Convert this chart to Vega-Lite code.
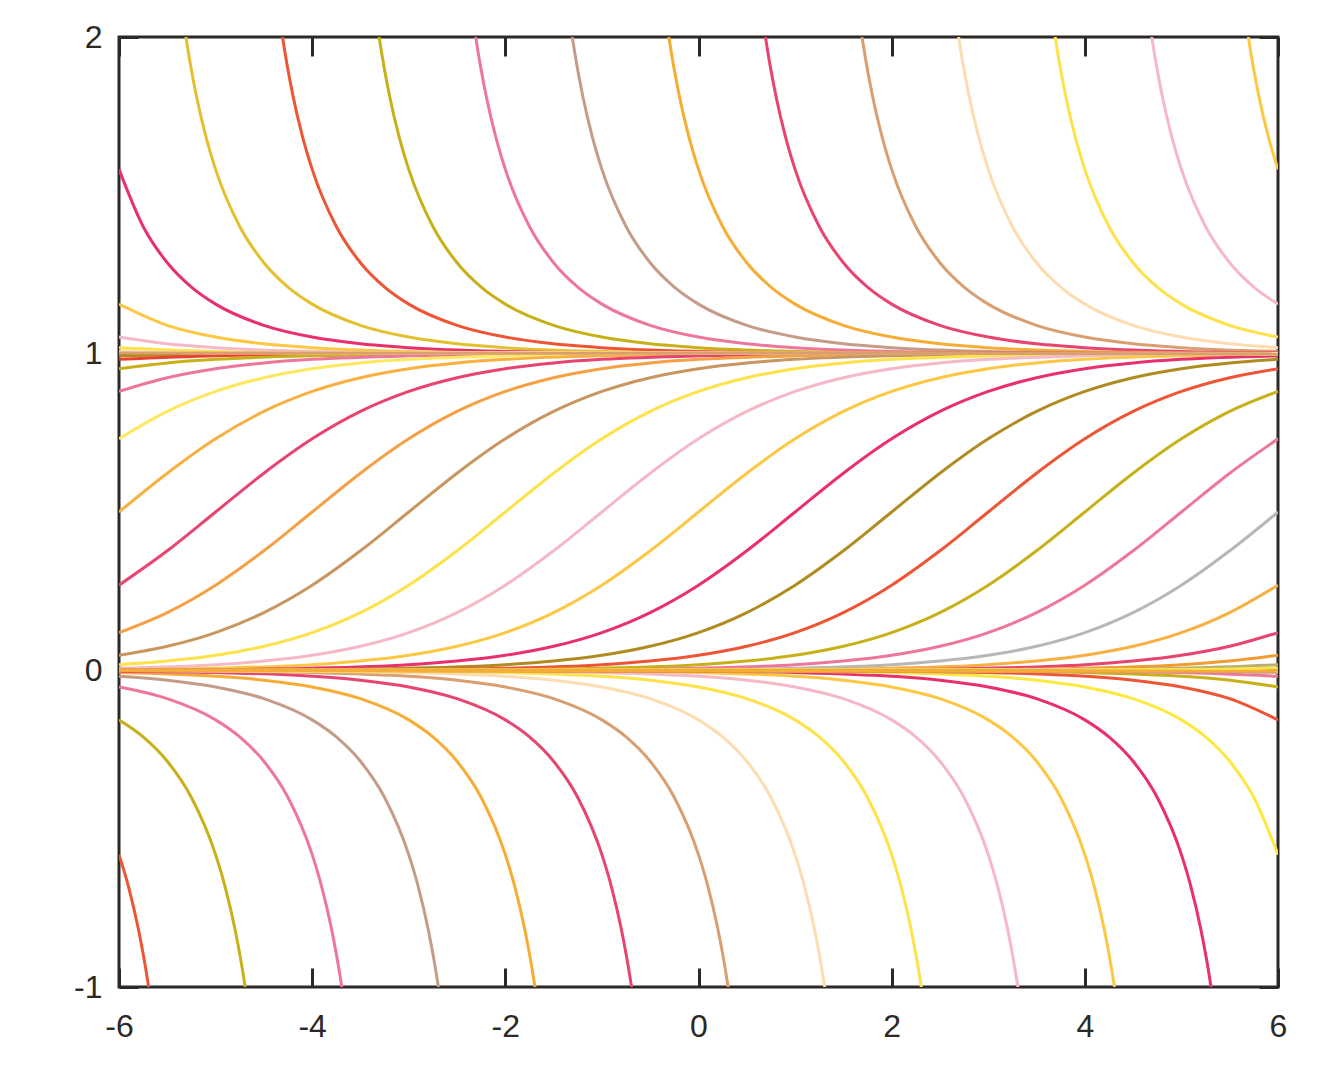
{
"$schema": "https://vega.github.io/schema/vega-lite/v6.json",
"width": 1159, "height": 950,
"autosize": "none",
"padding": {"left": 119, "top": 37, "right": 56, "bottom": 80},
"background": "white",
"config": {
 "view": {"stroke": "#2b2826", "strokeWidth": 3},
 "axis": {"domain": false, "grid": false, "tickColor": "#2b2826", "tickWidth": 3, "tickSize": -19, "labelFont": "Liberation Sans", "labelFontSize": 32, "labelColor": "#2b2826", "labelFlush": false, "labelOverlap": false, "title": null, "labelExpr": "toString(datum.value)"}
},
"data": {"values": [
{"id":"s-11","t":-6,"y":0.9933},{"id":"s-11","t":-5,"y":0.9975},{"id":"s-11","t":6,"y":1},
{"id":"s-10","t":-6,"y":0.982},{"id":"s-10","t":-5,"y":0.9933},{"id":"s-10","t":-4,"y":0.9975},{"id":"s-10","t":6,"y":1},
{"id":"s-9","t":-6,"y":0.9526},{"id":"s-9","t":-5.5,"y":0.9707},{"id":"s-9","t":-5,"y":0.982},{"id":"s-9","t":-4,"y":0.9933},{"id":"s-9","t":-3,"y":0.9975},{"id":"s-9","t":6,"y":1},
{"id":"s-8","t":-6,"y":0.8808},{"id":"s-8","t":-5.5,"y":0.9241},{"id":"s-8","t":-5,"y":0.9526},{"id":"s-8","t":-4.5,"y":0.9707},{"id":"s-8","t":-4,"y":0.982},{"id":"s-8","t":-3,"y":0.9933},{"id":"s-8","t":-2,"y":0.9975},{"id":"s-8","t":6,"y":1},
{"id":"s-7","t":-6,"y":0.7311},{"id":"s-7","t":-5.5,"y":0.8176},{"id":"s-7","t":-5,"y":0.8808},{"id":"s-7","t":-4.5,"y":0.9241},{"id":"s-7","t":-4,"y":0.9526},{"id":"s-7","t":-3.5,"y":0.9707},{"id":"s-7","t":-3,"y":0.982},{"id":"s-7","t":-2,"y":0.9933},{"id":"s-7","t":-1,"y":0.9975},{"id":"s-7","t":6,"y":1},
{"id":"s-6","t":-6,"y":0.5},{"id":"s-6","t":-5.5,"y":0.6225},{"id":"s-6","t":-5,"y":0.7311},{"id":"s-6","t":-4.5,"y":0.8176},{"id":"s-6","t":-4,"y":0.8808},{"id":"s-6","t":-3.5,"y":0.9241},{"id":"s-6","t":-3,"y":0.9526},{"id":"s-6","t":-2.5,"y":0.9707},{"id":"s-6","t":-2,"y":0.982},{"id":"s-6","t":-1,"y":0.9933},{"id":"s-6","t":0,"y":0.9975},{"id":"s-6","t":6,"y":1},
{"id":"s-5","t":-6,"y":0.2689},{"id":"s-5","t":-5.5,"y":0.3775},{"id":"s-5","t":-5,"y":0.5},{"id":"s-5","t":-4.5,"y":0.6225},{"id":"s-5","t":-4,"y":0.7311},{"id":"s-5","t":-3.5,"y":0.8176},{"id":"s-5","t":-3,"y":0.8808},{"id":"s-5","t":-2.5,"y":0.9241},{"id":"s-5","t":-2,"y":0.9526},{"id":"s-5","t":-1.5,"y":0.9707},{"id":"s-5","t":-1,"y":0.982},{"id":"s-5","t":0,"y":0.9933},{"id":"s-5","t":1,"y":0.9975},{"id":"s-5","t":6,"y":1},
{"id":"s-4","t":-6,"y":0.1192},{"id":"s-4","t":-5.5,"y":0.1824},{"id":"s-4","t":-5,"y":0.2689},{"id":"s-4","t":-4.5,"y":0.3775},{"id":"s-4","t":-4,"y":0.5},{"id":"s-4","t":-3.5,"y":0.6225},{"id":"s-4","t":-3,"y":0.7311},{"id":"s-4","t":-2.5,"y":0.8176},{"id":"s-4","t":-2,"y":0.8808},{"id":"s-4","t":-1.5,"y":0.9241},{"id":"s-4","t":-1,"y":0.9526},{"id":"s-4","t":-0.5,"y":0.9707},{"id":"s-4","t":0,"y":0.982},{"id":"s-4","t":1,"y":0.9933},{"id":"s-4","t":2,"y":0.9975},{"id":"s-4","t":6,"y":1},
{"id":"s-3","t":-6,"y":0.0474},{"id":"s-3","t":-5.5,"y":0.0759},{"id":"s-3","t":-5,"y":0.1192},{"id":"s-3","t":-4.5,"y":0.1824},{"id":"s-3","t":-4,"y":0.2689},{"id":"s-3","t":-3.5,"y":0.3775},{"id":"s-3","t":-3,"y":0.5},{"id":"s-3","t":-2.5,"y":0.6225},{"id":"s-3","t":-2,"y":0.7311},{"id":"s-3","t":-1.5,"y":0.8176},{"id":"s-3","t":-1,"y":0.8808},{"id":"s-3","t":-0.5,"y":0.9241},{"id":"s-3","t":0,"y":0.9526},{"id":"s-3","t":0.5,"y":0.9707},{"id":"s-3","t":1,"y":0.982},{"id":"s-3","t":2,"y":0.9933},{"id":"s-3","t":3,"y":0.9975},{"id":"s-3","t":6,"y":0.9999},
{"id":"s-2","t":-6,"y":0.018},{"id":"s-2","t":-5.5,"y":0.0293},{"id":"s-2","t":-5,"y":0.0474},{"id":"s-2","t":-4.5,"y":0.0759},{"id":"s-2","t":-4,"y":0.1192},{"id":"s-2","t":-3.5,"y":0.1824},{"id":"s-2","t":-3,"y":0.2689},{"id":"s-2","t":-2.5,"y":0.3775},{"id":"s-2","t":-2,"y":0.5},{"id":"s-2","t":-1.5,"y":0.6225},{"id":"s-2","t":-1,"y":0.7311},{"id":"s-2","t":-0.5,"y":0.8176},{"id":"s-2","t":0,"y":0.8808},{"id":"s-2","t":0.5,"y":0.9241},{"id":"s-2","t":1,"y":0.9526},{"id":"s-2","t":1.5,"y":0.9707},{"id":"s-2","t":2,"y":0.982},{"id":"s-2","t":3,"y":0.9933},{"id":"s-2","t":4,"y":0.9975},{"id":"s-2","t":6,"y":0.9997},
{"id":"s-1","t":-6,"y":0.0067},{"id":"s-1","t":-5,"y":0.018},{"id":"s-1","t":-4.5,"y":0.0293},{"id":"s-1","t":-4,"y":0.0474},{"id":"s-1","t":-3.5,"y":0.0759},{"id":"s-1","t":-3,"y":0.1192},{"id":"s-1","t":-2.5,"y":0.1824},{"id":"s-1","t":-2,"y":0.2689},{"id":"s-1","t":-1.5,"y":0.3775},{"id":"s-1","t":-1,"y":0.5},{"id":"s-1","t":-0.5,"y":0.6225},{"id":"s-1","t":0,"y":0.7311},{"id":"s-1","t":0.5,"y":0.8176},{"id":"s-1","t":1,"y":0.8808},{"id":"s-1","t":1.5,"y":0.9241},{"id":"s-1","t":2,"y":0.9526},{"id":"s-1","t":2.5,"y":0.9707},{"id":"s-1","t":3,"y":0.982},{"id":"s-1","t":4,"y":0.9933},{"id":"s-1","t":5,"y":0.9975},{"id":"s-1","t":6,"y":0.9991},
{"id":"s0","t":-6,"y":0.0025},{"id":"s0","t":-5,"y":0.0067},{"id":"s0","t":-4,"y":0.018},{"id":"s0","t":-3.5,"y":0.0293},{"id":"s0","t":-3,"y":0.0474},{"id":"s0","t":-2.5,"y":0.0759},{"id":"s0","t":-2,"y":0.1192},{"id":"s0","t":-1.5,"y":0.1824},{"id":"s0","t":-1,"y":0.2689},{"id":"s0","t":-0.5,"y":0.3775},{"id":"s0","t":0,"y":0.5},{"id":"s0","t":0.5,"y":0.6225},{"id":"s0","t":1,"y":0.7311},{"id":"s0","t":1.5,"y":0.8176},{"id":"s0","t":2,"y":0.8808},{"id":"s0","t":2.5,"y":0.9241},{"id":"s0","t":3,"y":0.9526},{"id":"s0","t":3.5,"y":0.9707},{"id":"s0","t":4,"y":0.982},{"id":"s0","t":5,"y":0.9933},{"id":"s0","t":6,"y":0.9975},
{"id":"s1","t":-6,"y":0.0009},{"id":"s1","t":-5,"y":0.0025},{"id":"s1","t":-4,"y":0.0067},{"id":"s1","t":-3,"y":0.018},{"id":"s1","t":-2.5,"y":0.0293},{"id":"s1","t":-2,"y":0.0474},{"id":"s1","t":-1.5,"y":0.0759},{"id":"s1","t":-1,"y":0.1192},{"id":"s1","t":-0.5,"y":0.1824},{"id":"s1","t":0,"y":0.2689},{"id":"s1","t":0.5,"y":0.3775},{"id":"s1","t":1,"y":0.5},{"id":"s1","t":1.5,"y":0.6225},{"id":"s1","t":2,"y":0.7311},{"id":"s1","t":2.5,"y":0.8176},{"id":"s1","t":3,"y":0.8808},{"id":"s1","t":3.5,"y":0.9241},{"id":"s1","t":4,"y":0.9526},{"id":"s1","t":4.5,"y":0.9707},{"id":"s1","t":5,"y":0.982},{"id":"s1","t":6,"y":0.9933},
{"id":"s2","t":-6,"y":0.0003},{"id":"s2","t":-4,"y":0.0025},{"id":"s2","t":-3,"y":0.0067},{"id":"s2","t":-2,"y":0.018},{"id":"s2","t":-1.5,"y":0.0293},{"id":"s2","t":-1,"y":0.0474},{"id":"s2","t":-0.5,"y":0.0759},{"id":"s2","t":0,"y":0.1192},{"id":"s2","t":0.5,"y":0.1824},{"id":"s2","t":1,"y":0.2689},{"id":"s2","t":1.5,"y":0.3775},{"id":"s2","t":2,"y":0.5},{"id":"s2","t":2.5,"y":0.6225},{"id":"s2","t":3,"y":0.7311},{"id":"s2","t":3.5,"y":0.8176},{"id":"s2","t":4,"y":0.8808},{"id":"s2","t":4.5,"y":0.9241},{"id":"s2","t":5,"y":0.9526},{"id":"s2","t":5.5,"y":0.9707},{"id":"s2","t":6,"y":0.982},
{"id":"s3","t":-6,"y":0.0001},{"id":"s3","t":-3,"y":0.0025},{"id":"s3","t":-2,"y":0.0067},{"id":"s3","t":-1,"y":0.018},{"id":"s3","t":-0.5,"y":0.0293},{"id":"s3","t":0,"y":0.0474},{"id":"s3","t":0.5,"y":0.0759},{"id":"s3","t":1,"y":0.1192},{"id":"s3","t":1.5,"y":0.1824},{"id":"s3","t":2,"y":0.2689},{"id":"s3","t":2.5,"y":0.3775},{"id":"s3","t":3,"y":0.5},{"id":"s3","t":3.5,"y":0.6225},{"id":"s3","t":4,"y":0.7311},{"id":"s3","t":4.5,"y":0.8176},{"id":"s3","t":5,"y":0.8808},{"id":"s3","t":5.5,"y":0.9241},{"id":"s3","t":6,"y":0.9526},
{"id":"s4","t":-6,"y":0},{"id":"s4","t":-2,"y":0.0025},{"id":"s4","t":-1,"y":0.0067},{"id":"s4","t":0,"y":0.018},{"id":"s4","t":0.5,"y":0.0293},{"id":"s4","t":1,"y":0.0474},{"id":"s4","t":1.5,"y":0.0759},{"id":"s4","t":2,"y":0.1192},{"id":"s4","t":2.5,"y":0.1824},{"id":"s4","t":3,"y":0.2689},{"id":"s4","t":3.5,"y":0.3775},{"id":"s4","t":4,"y":0.5},{"id":"s4","t":4.5,"y":0.6225},{"id":"s4","t":5,"y":0.7311},{"id":"s4","t":5.5,"y":0.8176},{"id":"s4","t":6,"y":0.8808},
{"id":"s5","t":-6,"y":0},{"id":"s5","t":-1,"y":0.0025},{"id":"s5","t":0,"y":0.0067},{"id":"s5","t":1,"y":0.018},{"id":"s5","t":1.5,"y":0.0293},{"id":"s5","t":2,"y":0.0474},{"id":"s5","t":2.5,"y":0.0759},{"id":"s5","t":3,"y":0.1192},{"id":"s5","t":3.5,"y":0.1824},{"id":"s5","t":4,"y":0.2689},{"id":"s5","t":4.5,"y":0.3775},{"id":"s5","t":5,"y":0.5},{"id":"s5","t":5.5,"y":0.6225},{"id":"s5","t":6,"y":0.7311},
{"id":"s6","t":-6,"y":0},{"id":"s6","t":0,"y":0.0025},{"id":"s6","t":1,"y":0.0067},{"id":"s6","t":2,"y":0.018},{"id":"s6","t":2.5,"y":0.0293},{"id":"s6","t":3,"y":0.0474},{"id":"s6","t":3.5,"y":0.0759},{"id":"s6","t":4,"y":0.1192},{"id":"s6","t":4.5,"y":0.1824},{"id":"s6","t":5,"y":0.2689},{"id":"s6","t":5.5,"y":0.3775},{"id":"s6","t":6,"y":0.5},
{"id":"s7","t":-6,"y":0},{"id":"s7","t":1,"y":0.0025},{"id":"s7","t":2,"y":0.0067},{"id":"s7","t":3,"y":0.018},{"id":"s7","t":3.5,"y":0.0293},{"id":"s7","t":4,"y":0.0474},{"id":"s7","t":4.5,"y":0.0759},{"id":"s7","t":5,"y":0.1192},{"id":"s7","t":5.5,"y":0.1824},{"id":"s7","t":6,"y":0.2689},
{"id":"s8","t":-6,"y":0},{"id":"s8","t":2,"y":0.0025},{"id":"s8","t":3,"y":0.0067},{"id":"s8","t":4,"y":0.018},{"id":"s8","t":4.5,"y":0.0293},{"id":"s8","t":5,"y":0.0474},{"id":"s8","t":5.5,"y":0.0759},{"id":"s8","t":6,"y":0.1192},
{"id":"s9","t":-6,"y":0},{"id":"s9","t":3,"y":0.0025},{"id":"s9","t":4,"y":0.0067},{"id":"s9","t":5,"y":0.018},{"id":"s9","t":5.5,"y":0.0293},{"id":"s9","t":6,"y":0.0474},
{"id":"s10","t":-6,"y":0},{"id":"s10","t":4,"y":0.0025},{"id":"s10","t":5,"y":0.0067},{"id":"s10","t":6,"y":0.018},
{"id":"s11","t":-6,"y":0},{"id":"s11","t":5,"y":0.0025},{"id":"s11","t":6,"y":0.0067},
{"id":"u5","t":5.5,"y":2.5415},{"id":"u5","t":5.6,"y":2.2164},{"id":"u5","t":5.7,"y":1.9864},{"id":"u5","t":5.8,"y":1.816},{"id":"u5","t":5.9,"y":1.6851},{"id":"u5","t":6,"y":1.582},
{"id":"u4","t":4.5,"y":2.5415},{"id":"u4","t":4.6,"y":2.2164},{"id":"u4","t":4.7,"y":1.9864},{"id":"u4","t":4.8,"y":1.816},{"id":"u4","t":4.9,"y":1.6851},{"id":"u4","t":5,"y":1.582},{"id":"u4","t":5.25,"y":1.4016},{"id":"u4","t":5.5,"y":1.2872},{"id":"u4","t":5.75,"y":1.2103},{"id":"u4","t":6,"y":1.1565},
{"id":"u3","t":3.5,"y":2.5415},{"id":"u3","t":3.6,"y":2.2164},{"id":"u3","t":3.7,"y":1.9864},{"id":"u3","t":3.8,"y":1.816},{"id":"u3","t":3.9,"y":1.6851},{"id":"u3","t":4,"y":1.582},{"id":"u3","t":4.25,"y":1.4016},{"id":"u3","t":4.5,"y":1.2872},{"id":"u3","t":4.75,"y":1.2103},{"id":"u3","t":5,"y":1.1565},{"id":"u3","t":5.5,"y":1.0894},{"id":"u3","t":6,"y":1.0524},
{"id":"u2","t":2.5,"y":2.5415},{"id":"u2","t":2.6,"y":2.2164},{"id":"u2","t":2.7,"y":1.9864},{"id":"u2","t":2.8,"y":1.816},{"id":"u2","t":2.9,"y":1.6851},{"id":"u2","t":3,"y":1.582},{"id":"u2","t":3.25,"y":1.4016},{"id":"u2","t":3.5,"y":1.2872},{"id":"u2","t":3.75,"y":1.2103},{"id":"u2","t":4,"y":1.1565},{"id":"u2","t":4.5,"y":1.0894},{"id":"u2","t":5,"y":1.0524},{"id":"u2","t":5.5,"y":1.0311},{"id":"u2","t":6,"y":1.0187},
{"id":"u1","t":1.5,"y":2.5415},{"id":"u1","t":1.6,"y":2.2164},{"id":"u1","t":1.7,"y":1.9864},{"id":"u1","t":1.8,"y":1.816},{"id":"u1","t":1.9,"y":1.6851},{"id":"u1","t":2,"y":1.582},{"id":"u1","t":2.25,"y":1.4016},{"id":"u1","t":2.5,"y":1.2872},{"id":"u1","t":2.75,"y":1.2103},{"id":"u1","t":3,"y":1.1565},{"id":"u1","t":3.5,"y":1.0894},{"id":"u1","t":4,"y":1.0524},{"id":"u1","t":4.5,"y":1.0311},{"id":"u1","t":5,"y":1.0187},{"id":"u1","t":6,"y":1.0068},
{"id":"u0","t":0.5,"y":2.5415},{"id":"u0","t":0.6,"y":2.2164},{"id":"u0","t":0.7,"y":1.9864},{"id":"u0","t":0.8,"y":1.816},{"id":"u0","t":0.9,"y":1.6851},{"id":"u0","t":1,"y":1.582},{"id":"u0","t":1.25,"y":1.4016},{"id":"u0","t":1.5,"y":1.2872},{"id":"u0","t":1.75,"y":1.2103},{"id":"u0","t":2,"y":1.1565},{"id":"u0","t":2.5,"y":1.0894},{"id":"u0","t":3,"y":1.0524},{"id":"u0","t":3.5,"y":1.0311},{"id":"u0","t":4,"y":1.0187},{"id":"u0","t":5,"y":1.0068},{"id":"u0","t":6,"y":1.0025},
{"id":"u-1","t":-0.5,"y":2.5415},{"id":"u-1","t":-0.4,"y":2.2164},{"id":"u-1","t":-0.3,"y":1.9864},{"id":"u-1","t":-0.2,"y":1.816},{"id":"u-1","t":-0.1,"y":1.6851},{"id":"u-1","t":0,"y":1.582},{"id":"u-1","t":0.25,"y":1.4016},{"id":"u-1","t":0.5,"y":1.2872},{"id":"u-1","t":0.75,"y":1.2103},{"id":"u-1","t":1,"y":1.1565},{"id":"u-1","t":1.5,"y":1.0894},{"id":"u-1","t":2,"y":1.0524},{"id":"u-1","t":2.5,"y":1.0311},{"id":"u-1","t":3,"y":1.0187},{"id":"u-1","t":4,"y":1.0068},{"id":"u-1","t":5,"y":1.0025},{"id":"u-1","t":6,"y":1.0009},
{"id":"u-2","t":-1.5,"y":2.5415},{"id":"u-2","t":-1.4,"y":2.2164},{"id":"u-2","t":-1.3,"y":1.9864},{"id":"u-2","t":-1.2,"y":1.816},{"id":"u-2","t":-1.1,"y":1.6851},{"id":"u-2","t":-1,"y":1.582},{"id":"u-2","t":-0.75,"y":1.4016},{"id":"u-2","t":-0.5,"y":1.2872},{"id":"u-2","t":-0.25,"y":1.2103},{"id":"u-2","t":0,"y":1.1565},{"id":"u-2","t":0.5,"y":1.0894},{"id":"u-2","t":1,"y":1.0524},{"id":"u-2","t":1.5,"y":1.0311},{"id":"u-2","t":2,"y":1.0187},{"id":"u-2","t":3,"y":1.0068},{"id":"u-2","t":4,"y":1.0025},{"id":"u-2","t":6,"y":1.0003},
{"id":"u-3","t":-2.5,"y":2.5415},{"id":"u-3","t":-2.4,"y":2.2164},{"id":"u-3","t":-2.3,"y":1.9864},{"id":"u-3","t":-2.2,"y":1.816},{"id":"u-3","t":-2.1,"y":1.6851},{"id":"u-3","t":-2,"y":1.582},{"id":"u-3","t":-1.75,"y":1.4016},{"id":"u-3","t":-1.5,"y":1.2872},{"id":"u-3","t":-1.25,"y":1.2103},{"id":"u-3","t":-1,"y":1.1565},{"id":"u-3","t":-0.5,"y":1.0894},{"id":"u-3","t":0,"y":1.0524},{"id":"u-3","t":0.5,"y":1.0311},{"id":"u-3","t":1,"y":1.0187},{"id":"u-3","t":2,"y":1.0068},{"id":"u-3","t":3,"y":1.0025},{"id":"u-3","t":6,"y":1.0001},
{"id":"u-4","t":-3.5,"y":2.5415},{"id":"u-4","t":-3.4,"y":2.2164},{"id":"u-4","t":-3.3,"y":1.9864},{"id":"u-4","t":-3.2,"y":1.816},{"id":"u-4","t":-3.1,"y":1.6851},{"id":"u-4","t":-3,"y":1.582},{"id":"u-4","t":-2.75,"y":1.4016},{"id":"u-4","t":-2.5,"y":1.2872},{"id":"u-4","t":-2.25,"y":1.2103},{"id":"u-4","t":-2,"y":1.1565},{"id":"u-4","t":-1.5,"y":1.0894},{"id":"u-4","t":-1,"y":1.0524},{"id":"u-4","t":-0.5,"y":1.0311},{"id":"u-4","t":0,"y":1.0187},{"id":"u-4","t":1,"y":1.0068},{"id":"u-4","t":2,"y":1.0025},{"id":"u-4","t":6,"y":1},
{"id":"u-5","t":-4.5,"y":2.5415},{"id":"u-5","t":-4.4,"y":2.2164},{"id":"u-5","t":-4.3,"y":1.9864},{"id":"u-5","t":-4.2,"y":1.816},{"id":"u-5","t":-4.1,"y":1.6851},{"id":"u-5","t":-4,"y":1.582},{"id":"u-5","t":-3.75,"y":1.4016},{"id":"u-5","t":-3.5,"y":1.2872},{"id":"u-5","t":-3.25,"y":1.2103},{"id":"u-5","t":-3,"y":1.1565},{"id":"u-5","t":-2.5,"y":1.0894},{"id":"u-5","t":-2,"y":1.0524},{"id":"u-5","t":-1.5,"y":1.0311},{"id":"u-5","t":-1,"y":1.0187},{"id":"u-5","t":0,"y":1.0068},{"id":"u-5","t":1,"y":1.0025},{"id":"u-5","t":6,"y":1},
{"id":"u-6","t":-5.5,"y":2.5415},{"id":"u-6","t":-5.4,"y":2.2164},{"id":"u-6","t":-5.3,"y":1.9864},{"id":"u-6","t":-5.2,"y":1.816},{"id":"u-6","t":-5.1,"y":1.6851},{"id":"u-6","t":-5,"y":1.582},{"id":"u-6","t":-4.75,"y":1.4016},{"id":"u-6","t":-4.5,"y":1.2872},{"id":"u-6","t":-4.25,"y":1.2103},{"id":"u-6","t":-4,"y":1.1565},{"id":"u-6","t":-3.5,"y":1.0894},{"id":"u-6","t":-3,"y":1.0524},{"id":"u-6","t":-2.5,"y":1.0311},{"id":"u-6","t":-2,"y":1.0187},{"id":"u-6","t":-1,"y":1.0068},{"id":"u-6","t":0,"y":1.0025},{"id":"u-6","t":6,"y":1},
{"id":"u-7","t":-6,"y":1.582},{"id":"u-7","t":-5.75,"y":1.4016},{"id":"u-7","t":-5.5,"y":1.2872},{"id":"u-7","t":-5.25,"y":1.2103},{"id":"u-7","t":-5,"y":1.1565},{"id":"u-7","t":-4.5,"y":1.0894},{"id":"u-7","t":-4,"y":1.0524},{"id":"u-7","t":-3.5,"y":1.0311},{"id":"u-7","t":-3,"y":1.0187},{"id":"u-7","t":-2,"y":1.0068},{"id":"u-7","t":-1,"y":1.0025},{"id":"u-7","t":6,"y":1},
{"id":"u-8","t":-6,"y":1.1565},{"id":"u-8","t":-5.5,"y":1.0894},{"id":"u-8","t":-5,"y":1.0524},{"id":"u-8","t":-4.5,"y":1.0311},{"id":"u-8","t":-4,"y":1.0187},{"id":"u-8","t":-3,"y":1.0068},{"id":"u-8","t":-2,"y":1.0025},{"id":"u-8","t":6,"y":1},
{"id":"u-9","t":-6,"y":1.0524},{"id":"u-9","t":-5.5,"y":1.0311},{"id":"u-9","t":-5,"y":1.0187},{"id":"u-9","t":-4,"y":1.0068},{"id":"u-9","t":-3,"y":1.0025},{"id":"u-9","t":6,"y":1},
{"id":"u-10","t":-6,"y":1.0187},{"id":"u-10","t":-5,"y":1.0068},{"id":"u-10","t":-4,"y":1.0025},{"id":"u-10","t":6,"y":1},
{"id":"u-11","t":-6,"y":1.0068},{"id":"u-11","t":-5,"y":1.0025},{"id":"u-11","t":6,"y":1},
{"id":"u-12","t":-6,"y":1.0025},{"id":"u-12","t":6,"y":1},
{"id":"l-5","t":-6,"y":-0.582},{"id":"l-5","t":-5.9,"y":-0.6851},{"id":"l-5","t":-5.8,"y":-0.816},{"id":"l-5","t":-5.7,"y":-0.9864},{"id":"l-5","t":-5.6,"y":-1.2164},{"id":"l-5","t":-5.5,"y":-1.5415},
{"id":"l-4","t":-6,"y":-0.1565},{"id":"l-4","t":-5.75,"y":-0.2103},{"id":"l-4","t":-5.5,"y":-0.2872},{"id":"l-4","t":-5.25,"y":-0.4016},{"id":"l-4","t":-5,"y":-0.582},{"id":"l-4","t":-4.9,"y":-0.6851},{"id":"l-4","t":-4.8,"y":-0.816},{"id":"l-4","t":-4.7,"y":-0.9864},{"id":"l-4","t":-4.6,"y":-1.2164},{"id":"l-4","t":-4.5,"y":-1.5415},
{"id":"l-3","t":-6,"y":-0.0524},{"id":"l-3","t":-5.5,"y":-0.0894},{"id":"l-3","t":-5,"y":-0.1565},{"id":"l-3","t":-4.75,"y":-0.2103},{"id":"l-3","t":-4.5,"y":-0.2872},{"id":"l-3","t":-4.25,"y":-0.4016},{"id":"l-3","t":-4,"y":-0.582},{"id":"l-3","t":-3.9,"y":-0.6851},{"id":"l-3","t":-3.8,"y":-0.816},{"id":"l-3","t":-3.7,"y":-0.9864},{"id":"l-3","t":-3.6,"y":-1.2164},{"id":"l-3","t":-3.5,"y":-1.5415},
{"id":"l-2","t":-6,"y":-0.0187},{"id":"l-2","t":-5.5,"y":-0.0311},{"id":"l-2","t":-5,"y":-0.0524},{"id":"l-2","t":-4.5,"y":-0.0894},{"id":"l-2","t":-4,"y":-0.1565},{"id":"l-2","t":-3.75,"y":-0.2103},{"id":"l-2","t":-3.5,"y":-0.2872},{"id":"l-2","t":-3.25,"y":-0.4016},{"id":"l-2","t":-3,"y":-0.582},{"id":"l-2","t":-2.9,"y":-0.6851},{"id":"l-2","t":-2.8,"y":-0.816},{"id":"l-2","t":-2.7,"y":-0.9864},{"id":"l-2","t":-2.6,"y":-1.2164},{"id":"l-2","t":-2.5,"y":-1.5415},
{"id":"l-1","t":-6,"y":-0.0068},{"id":"l-1","t":-5,"y":-0.0187},{"id":"l-1","t":-4.5,"y":-0.0311},{"id":"l-1","t":-4,"y":-0.0524},{"id":"l-1","t":-3.5,"y":-0.0894},{"id":"l-1","t":-3,"y":-0.1565},{"id":"l-1","t":-2.75,"y":-0.2103},{"id":"l-1","t":-2.5,"y":-0.2872},{"id":"l-1","t":-2.25,"y":-0.4016},{"id":"l-1","t":-2,"y":-0.582},{"id":"l-1","t":-1.9,"y":-0.6851},{"id":"l-1","t":-1.8,"y":-0.816},{"id":"l-1","t":-1.7,"y":-0.9864},{"id":"l-1","t":-1.6,"y":-1.2164},{"id":"l-1","t":-1.5,"y":-1.5415},
{"id":"l0","t":-6,"y":-0.0025},{"id":"l0","t":-5,"y":-0.0068},{"id":"l0","t":-4,"y":-0.0187},{"id":"l0","t":-3.5,"y":-0.0311},{"id":"l0","t":-3,"y":-0.0524},{"id":"l0","t":-2.5,"y":-0.0894},{"id":"l0","t":-2,"y":-0.1565},{"id":"l0","t":-1.75,"y":-0.2103},{"id":"l0","t":-1.5,"y":-0.2872},{"id":"l0","t":-1.25,"y":-0.4016},{"id":"l0","t":-1,"y":-0.582},{"id":"l0","t":-0.9,"y":-0.6851},{"id":"l0","t":-0.8,"y":-0.816},{"id":"l0","t":-0.7,"y":-0.9864},{"id":"l0","t":-0.6,"y":-1.2164},{"id":"l0","t":-0.5,"y":-1.5415},
{"id":"l1","t":-6,"y":-0.0009},{"id":"l1","t":-5,"y":-0.0025},{"id":"l1","t":-4,"y":-0.0068},{"id":"l1","t":-3,"y":-0.0187},{"id":"l1","t":-2.5,"y":-0.0311},{"id":"l1","t":-2,"y":-0.0524},{"id":"l1","t":-1.5,"y":-0.0894},{"id":"l1","t":-1,"y":-0.1565},{"id":"l1","t":-0.75,"y":-0.2103},{"id":"l1","t":-0.5,"y":-0.2872},{"id":"l1","t":-0.25,"y":-0.4016},{"id":"l1","t":0,"y":-0.582},{"id":"l1","t":0.1,"y":-0.6851},{"id":"l1","t":0.2,"y":-0.816},{"id":"l1","t":0.3,"y":-0.9864},{"id":"l1","t":0.4,"y":-1.2164},{"id":"l1","t":0.5,"y":-1.5415},
{"id":"l2","t":-6,"y":-0.0003},{"id":"l2","t":-4,"y":-0.0025},{"id":"l2","t":-3,"y":-0.0068},{"id":"l2","t":-2,"y":-0.0187},{"id":"l2","t":-1.5,"y":-0.0311},{"id":"l2","t":-1,"y":-0.0524},{"id":"l2","t":-0.5,"y":-0.0894},{"id":"l2","t":0,"y":-0.1565},{"id":"l2","t":0.25,"y":-0.2103},{"id":"l2","t":0.5,"y":-0.2872},{"id":"l2","t":0.75,"y":-0.4016},{"id":"l2","t":1,"y":-0.582},{"id":"l2","t":1.1,"y":-0.6851},{"id":"l2","t":1.2,"y":-0.816},{"id":"l2","t":1.3,"y":-0.9864},{"id":"l2","t":1.4,"y":-1.2164},{"id":"l2","t":1.5,"y":-1.5415},
{"id":"l3","t":-6,"y":-0.0001},{"id":"l3","t":-3,"y":-0.0025},{"id":"l3","t":-2,"y":-0.0068},{"id":"l3","t":-1,"y":-0.0187},{"id":"l3","t":-0.5,"y":-0.0311},{"id":"l3","t":0,"y":-0.0524},{"id":"l3","t":0.5,"y":-0.0894},{"id":"l3","t":1,"y":-0.1565},{"id":"l3","t":1.25,"y":-0.2103},{"id":"l3","t":1.5,"y":-0.2872},{"id":"l3","t":1.75,"y":-0.4016},{"id":"l3","t":2,"y":-0.582},{"id":"l3","t":2.1,"y":-0.6851},{"id":"l3","t":2.2,"y":-0.816},{"id":"l3","t":2.3,"y":-0.9864},{"id":"l3","t":2.4,"y":-1.2164},{"id":"l3","t":2.5,"y":-1.5415},
{"id":"l4","t":-6,"y":0},{"id":"l4","t":-2,"y":-0.0025},{"id":"l4","t":-1,"y":-0.0068},{"id":"l4","t":0,"y":-0.0187},{"id":"l4","t":0.5,"y":-0.0311},{"id":"l4","t":1,"y":-0.0524},{"id":"l4","t":1.5,"y":-0.0894},{"id":"l4","t":2,"y":-0.1565},{"id":"l4","t":2.25,"y":-0.2103},{"id":"l4","t":2.5,"y":-0.2872},{"id":"l4","t":2.75,"y":-0.4016},{"id":"l4","t":3,"y":-0.582},{"id":"l4","t":3.1,"y":-0.6851},{"id":"l4","t":3.2,"y":-0.816},{"id":"l4","t":3.3,"y":-0.9864},{"id":"l4","t":3.4,"y":-1.2164},{"id":"l4","t":3.5,"y":-1.5415},
{"id":"l5","t":-6,"y":0},{"id":"l5","t":-1,"y":-0.0025},{"id":"l5","t":0,"y":-0.0068},{"id":"l5","t":1,"y":-0.0187},{"id":"l5","t":1.5,"y":-0.0311},{"id":"l5","t":2,"y":-0.0524},{"id":"l5","t":2.5,"y":-0.0894},{"id":"l5","t":3,"y":-0.1565},{"id":"l5","t":3.25,"y":-0.2103},{"id":"l5","t":3.5,"y":-0.2872},{"id":"l5","t":3.75,"y":-0.4016},{"id":"l5","t":4,"y":-0.582},{"id":"l5","t":4.1,"y":-0.6851},{"id":"l5","t":4.2,"y":-0.816},{"id":"l5","t":4.3,"y":-0.9864},{"id":"l5","t":4.4,"y":-1.2164},{"id":"l5","t":4.5,"y":-1.5415},
{"id":"l6","t":-6,"y":0},{"id":"l6","t":0,"y":-0.0025},{"id":"l6","t":1,"y":-0.0068},{"id":"l6","t":2,"y":-0.0187},{"id":"l6","t":2.5,"y":-0.0311},{"id":"l6","t":3,"y":-0.0524},{"id":"l6","t":3.5,"y":-0.0894},{"id":"l6","t":4,"y":-0.1565},{"id":"l6","t":4.25,"y":-0.2103},{"id":"l6","t":4.5,"y":-0.2872},{"id":"l6","t":4.75,"y":-0.4016},{"id":"l6","t":5,"y":-0.582},{"id":"l6","t":5.1,"y":-0.6851},{"id":"l6","t":5.2,"y":-0.816},{"id":"l6","t":5.3,"y":-0.9864},{"id":"l6","t":5.4,"y":-1.2164},{"id":"l6","t":5.5,"y":-1.5415},
{"id":"l7","t":-6,"y":0},{"id":"l7","t":1,"y":-0.0025},{"id":"l7","t":2,"y":-0.0068},{"id":"l7","t":3,"y":-0.0187},{"id":"l7","t":3.5,"y":-0.0311},{"id":"l7","t":4,"y":-0.0524},{"id":"l7","t":4.5,"y":-0.0894},{"id":"l7","t":5,"y":-0.1565},{"id":"l7","t":5.25,"y":-0.2103},{"id":"l7","t":5.5,"y":-0.2872},{"id":"l7","t":5.75,"y":-0.4016},{"id":"l7","t":6,"y":-0.582},
{"id":"l8","t":-6,"y":0},{"id":"l8","t":2,"y":-0.0025},{"id":"l8","t":3,"y":-0.0068},{"id":"l8","t":4,"y":-0.0187},{"id":"l8","t":4.5,"y":-0.0311},{"id":"l8","t":5,"y":-0.0524},{"id":"l8","t":5.5,"y":-0.0894},{"id":"l8","t":6,"y":-0.1565},
{"id":"l9","t":-6,"y":0},{"id":"l9","t":3,"y":-0.0025},{"id":"l9","t":4,"y":-0.0068},{"id":"l9","t":5,"y":-0.0187},{"id":"l9","t":5.5,"y":-0.0311},{"id":"l9","t":6,"y":-0.0524},
{"id":"l10","t":-6,"y":0},{"id":"l10","t":4,"y":-0.0025},{"id":"l10","t":5,"y":-0.0068},{"id":"l10","t":6,"y":-0.0187},
{"id":"l11","t":-6,"y":0},{"id":"l11","t":5,"y":-0.0025},{"id":"l11","t":6,"y":-0.0068},
{"id":"l12","t":-6,"y":0},{"id":"l12","t":6,"y":-0.0025}
]},
"layer": [
 {
  "mark": {"type": "line", "clip": true, "strokeWidth": 3, "interpolate": "monotone"},
  "encoding": {
   "x": {"field": "t", "type": "quantitative", "scale": {"domain": [-6, 6], "nice": false, "zero": false},
         "axis": {"orient": "bottom", "values": [-6, -4, -2, 0, 2, 4, 6], "labelPadding": 43}},
   "y": {"field": "y", "type": "quantitative", "scale": {"domain": [-1, 2], "nice": false, "zero": false},
         "axis": {"orient": "left", "values": [-1, 0, 1, 2], "labelPadding": 36}},
   "color": {"field": "id", "type": "nominal", "legend": null,
    "scale": {
     "domain": ["s-11","s-10","s-9","s-8","s-7","s-6","s-5","s-4","s-3","s-2","s-1","s0","s1","s2","s3","s4","s5","s6","s7","s8","s9","s10","s11",
                "u-12","u-11","u-10","u-9","u-8","u-7","u-6","u-5","u-4","u-3","u-2","u-1","u0","u1","u2","u3","u4","u5",
                "l-5","l-4","l-3","l-2","l-1","l0","l1","l2","l3","l4","l5","l6","l7","l8","l9","l10","l11","l12"],
     "range": ["#b08c20","#ec4030","#c8b018","#ee7799","#fde860","#f8b040","#e84470","#f5a045","#c8965e","#fde24a","#f4b8c6","#fcc844","#e8306a","#b08c20","#ee5535","#c8b018","#ee7799","#bab6b4","#f8b040","#e84470","#f39a30","#b8b070","#fde24a",
               "#d99f70","#fcdcb0","#fde24a","#f4b8c6","#fcc844","#e8306a","#e4c030","#ee5535","#c8b018","#ee7799","#c49c88","#f7ad35","#e84470","#d99f70","#fcdcb0","#fde24a","#f4b8c6","#fcc844",
               "#ee5535","#c8b018","#ee7799","#c49c88","#f7ad35","#e84470","#d99f70","#fcdcb0","#fde24a","#f4b8c6","#fcc844","#e8306a","#fde840","#ee5535","#c8b018","#ee7799","#c49c88","#f7ad35"]
    }}
  }
 },
 {
  "mark": {"type": "line", "clip": true, "opacity": 0},
  "encoding": {
   "x": {"field": "t", "type": "quantitative", "scale": {"domain": [-6, 6], "nice": false, "zero": false},
         "axis": {"orient": "top", "values": [-6, -4, -2, 0, 2, 4, 6], "labels": false}},
   "y": {"field": "y", "type": "quantitative", "scale": {"domain": [-1, 2], "nice": false, "zero": false},
         "axis": {"orient": "right", "values": [-1, 0, 1, 2], "labels": false}}
  }
 }
],
"resolve": {"axis": {"x": "independent", "y": "independent"}}
}
